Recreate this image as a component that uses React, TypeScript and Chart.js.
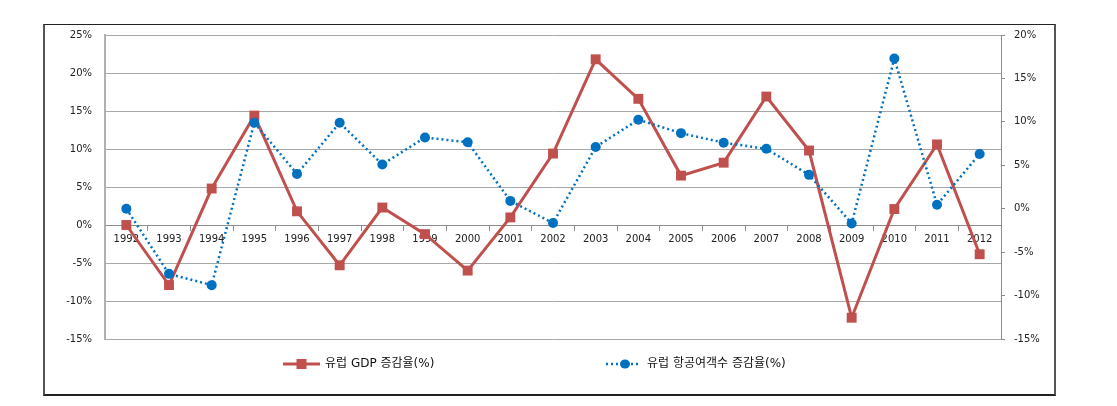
import React, { useEffect, useRef } from "react";
import { Chart, registerables } from "chart.js";

Chart.register(...registerables);

const years = ["1992","1993","1994","1995","1996","1997","1998","1999","2000","2001","2002","2003","2004","2005","2006","2007","2008","2009","2010","2011","2012"];
const gdpGrowth = [0, -7.9, 4.8, 14.4, 1.8, -5.3, 2.3, -1.2, -6.0, 1.0, 9.4, 21.8, 16.6, 6.5, 8.2, 16.9, 9.8, -12.2, 2.1, 10.6, -3.85];
const paxGrowth = [0.0, -7.5, -8.8, 9.9, 4.0, 9.9, 5.1, 8.2, 7.65, 0.9, -1.65, 7.1, 10.25, 8.7, 7.6, 6.9, 3.9, -1.7, 17.3, 0.45, 6.3];
const gdpLabel = "유럽 GDP 증감율(%)";
const paxLabel = "유럽 항공여객수 증감율(%)";

const RED = "#C0504D";
const BLUE = "#0070C0";
const FONT = '"DejaVu Sans", "Noto Sans CJK KR", sans-serif';

const legendPlugin = {
  id: "customLegend",
  afterDraw(chart: any) {
    const ctx = chart.ctx;
    const y = chart.chartArea.bottom + 25;
    ctx.save();
    // red item
    ctx.strokeStyle = RED;
    ctx.lineWidth = 3;
    ctx.setLineDash([]);
    ctx.beginPath();
    ctx.moveTo(238, y);
    ctx.lineTo(275, y);
    ctx.stroke();
    ctx.fillStyle = RED;
    ctx.fillRect(256.5 - 5, y - 5, 10, 10);
    // blue item
    ctx.strokeStyle = BLUE;
    ctx.lineWidth = 2.5;
    ctx.setLineDash([2, 3]);
    ctx.beginPath();
    ctx.moveTo(561, y);
    ctx.lineTo(595, y);
    ctx.stroke();
    ctx.setLineDash([]);
    ctx.fillStyle = BLUE;
    ctx.beginPath();
    ctx.ellipse(580, y, 5, 4.5, 0, 0, Math.PI * 2);
    ctx.fill();
    // text
    ctx.fillStyle = "#111";
    ctx.font = "12px " + FONT;
    ctx.textBaseline = "middle";
    ctx.textAlign = "left";
    ctx.fillText(gdpLabel, 280, y);
    ctx.fillText(paxLabel, 602, y);
    ctx.restore();
  },
};

export default function App() {
  const ref = useRef<HTMLCanvasElement>(null);
  useEffect(() => {
    const chart = new Chart(ref.current!, {
      type: "line",
      data: {
        labels: years,
        datasets: [
          {
            label: gdpLabel,
            data: gdpGrowth,
            yAxisID: "y",
            borderColor: RED,
            backgroundColor: RED,
            borderWidth: 3,
            pointStyle: "rect",
            pointRadius: 7,
            pointBorderWidth: 0,
            tension: 0,
            order: 1,
          },
          {
            label: paxLabel,
            data: paxGrowth,
            yAxisID: "y1",
            borderColor: BLUE,
            backgroundColor: BLUE,
            borderWidth: 2.5,
            borderDash: [2, 3],
            pointStyle: "circle",
            pointRadius: 5,
            pointBorderWidth: 0,
            tension: 0,
            order: 0,
          },
        ],
      },
      options: {
        animation: false,
        responsive: false,
        devicePixelRatio: 1,
        layout: { padding: { top: 0, bottom: 55, left: 0, right: 0 } },
        plugins: { legend: { display: false }, tooltip: { enabled: false } },
        scales: {
          x: {
            type: "category",
            position: { y: 0 } as any,
            offset: true,
            grid: {
              offset: true,
              drawOnChartArea: false,
              drawTicks: true,
              tickLength: 5,
              color: "#8c8c8c",
            },
            border: { color: "#8c8c8c", width: 1 },
            ticks: {
              color: "#222",
              font: { family: FONT, size: 10 },
              padding: 3,
              maxRotation: 0,
              autoSkip: false,
            },
          },
          y: {
            position: "left",
            min: -15,
            max: 25,
            afterFit: (s: any) => { s.width = 60; },
            ticks: {
              stepSize: 5,
              color: "#222",
              font: { family: FONT, size: 10 },
              padding: 13,
              callback: (v: any) => `${v}%`,
            },
            grid: { color: "#a8a8a8", drawTicks: false, lineWidth: 1 },
            border: { color: "#b0b0b0", width: 2 },
          },
          y1: {
            position: "right",
            min: -15,
            max: 20,
            afterFit: (s: any) => { s.width = 53; },
            ticks: {
              stepSize: 5,
              color: "#222",
              font: { family: FONT, size: 10 },
              padding: 9,
              callback: (v: any) => `${v}%`,
            },
            grid: { drawOnChartArea: false, drawTicks: true, tickLength: 4, color: "#8c8c8c" },
            border: { color: "#8c8c8c", width: 1 },
          },
        },
      },
      plugins: [legendPlugin],
    });
    return () => chart.destroy();
  }, []);

  return (
    <div
      style={{
        position: "absolute",
        left: 43,
        top: 24,
        width: 1013,
        height: 372,
        boxSizing: "border-box",
        borderTop: "1px solid #222",
        borderLeft: "2px solid #555",
        borderRight: "2px solid #555",
        borderBottom: "2px solid #222",
        background: "#fff",
        overflow: "hidden",
      }}
    >
      <canvas ref={ref} width={1009} height={378} style={{ display: "block", marginTop: -9 }} />
    </div>
  );
}
